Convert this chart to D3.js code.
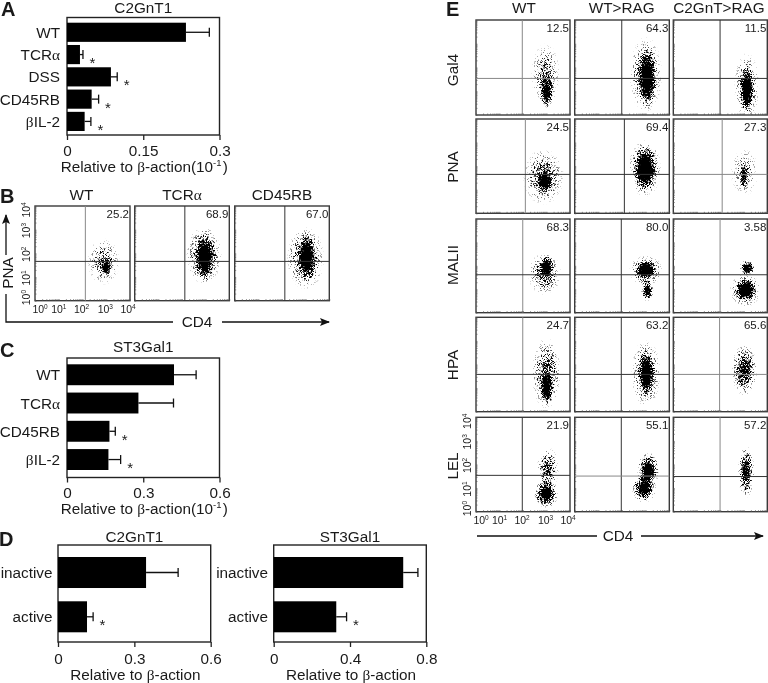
<!DOCTYPE html>
<html lang="en">
<head>
<meta charset="utf-8">
<title>Figure</title>
<script src="https://d3js.org/d3.v7.min.js"></script>
<style>
  html, body { margin: 0; padding: 0; background: #fff; }
  svg { display: block; }
  text { font-family: "Liberation Sans", Arial, sans-serif; fill: #1a1a1a; }
  .axis text { font-size: 15.3px; }
  .axis path, .axis line { stroke: #222; stroke-width: 1.3; }
</style>
</head>
<body>
<div id="viz"></div>
<script>
// bar panels: mean, top of error bar, significance star
const aCats = ["WT", "TCRα", "DSS", "CD45RB", "βIL-2"];
const aVals = [0.234, 0.0255, 0.0864, 0.0485, 0.0347];
const aErrs = [0.28, 0.0314, 0.0988, 0.0622, 0.047];
const aStar = [false, true, true, true, true];

const cCats = ["WT", "TCRα", "CD45RB", "βIL-2"];
const cVals = [0.421, 0.281, 0.167, 0.163];
const cErrs = [0.508, 0.419, 0.19, 0.211];
const cStar = [false, false, true, true];

const dCats = ["inactive", "active"];
const d1Vals = [0.346, 0.114];
const d1Errs = [0.472, 0.138];
const d2Vals = [0.679, 0.328];
const d2Errs = [0.756, 0.382];
const dStar = [false, true];

// flow plots. clouds are read off the picture, in log10 units:
// [x centre, y centre, x extent, y extent, density]
const bCols = ["WT", "TCRα", "CD45RB"];
const bPct = ["25.2", "68.9", "67.0"];
const bGateX = [2.12, 2.12, 2.12];
const bGateY = 1.66;
const bClouds = [
  [[2.89, 1.65, 0.7, 1.0, 0.42], [2.99, 1.41, 0.22, 0.38, 1]],
  [[2.93, 1.93, 0.77, 1.25, 0.6], [2.97, 1.79, 0.42, 1.05, 1]],
  [[3.0, 1.79, 0.8, 1.35, 0.6], [3.06, 1.86, 0.37, 1.05, 1]]
];

const eCols = ["WT", "WT>RAG", "C2GnT>RAG"];
const eRows = ["Gal4", "PNA", "MALII", "HPA", "LEL"];
const ePct = [
  ["12.5", "64.3", "11.5"],
  ["24.5", "69.4", "27.3"],
  ["68.3", "80.0", "3.58"],
  ["24.7", "63.2", "65.6"],
  ["21.9", "55.1", "57.2"]
];
const eGateX = [
  [1.97, 1.99, 1.99],
  [2.1, 2.1, 2.08],
  [1.99, 1.97, 1.99],
  [1.99, 1.97, 1.97],
  [1.97, 1.97, 1.99]
];
const eGateY = [
  [1.54, 1.54, 1.54],
  [1.65, 1.65, 1.65],
  [1.62, 1.62, 1.62],
  [1.58, 1.58, 1.58],
  [1.54, 1.51, 1.49]
];
// gate lines that print lighter in the picture
const eGreyX = [
  [1, 0, 0],
  [1, 0, 1],
  [1, 0, 1],
  [1, 0, 1],
  [0, 0, 1]
];
const eGreyY = [
  [1, 0, 0],
  [0, 0, 1],
  [0, 0, 0],
  [0, 0, 1],
  [0, 1, 0]
];
const eClouds = [
  [
    [[2.96, 1.69, 0.62, 1.35, 0.42], [3.01, 0.99, 0.32, 0.8, 0.85]],
    [[3.01, 1.69, 0.7, 1.65, 0.55], [3.07, 1.55, 0.4, 1.32, 1]],
    [[3.13, 1.2, 0.55, 1.45, 0.5], [3.13, 1.05, 0.3, 0.98, 1]]
  ],
  [
    [[2.87, 1.55, 0.88, 1.2, 0.5], [2.92, 1.34, 0.35, 0.47, 1]],
    [[2.97, 1.9, 0.7, 1.22, 0.7], [2.99, 1.9, 0.47, 0.98, 1]],
    [[3.03, 1.76, 0.6, 1.05, 0.3], [3.01, 1.55, 0.2, 0.58, 0.75]]
  ],
  [
    [[2.92, 1.66, 0.72, 0.92, 0.5], [3.01, 1.94, 0.32, 0.52, 1]],
    [[3.01, 1.8, 0.72, 0.66, 0.6], [3.01, 1.83, 0.42, 0.42, 1], [3.07, 0.96, 0.27, 0.48, 0.9]],
    [[3.13, 1.9, 0.36, 0.34, 0.9], [3.07, 0.96, 0.67, 0.72, 0.6], [3.07, 0.96, 0.47, 0.47, 1]]
  ],
  [
    [[2.99, 1.62, 0.63, 1.55, 0.55], [3.01, 0.99, 0.28, 0.72, 1]],
    [[3.01, 1.62, 0.63, 1.47, 0.55], [3.04, 1.62, 0.33, 0.95, 1]],
    [[3.03, 1.76, 0.55, 1.12, 0.72]]
  ],
  [
    [[3.06, 1.83, 0.48, 0.92, 0.55], [2.99, 0.77, 0.52, 0.62, 1]],
    [[3.11, 1.76, 0.48, 0.76, 1], [2.93, 0.99, 0.52, 0.62, 0.95]],
    [[3.1, 1.69, 0.36, 1.12, 0.78]]
  ]
];

const width = 768;
const height = 683;
const fontSize = 15.3;
const svg = d3.select("#viz").append("svg")
  .attr("width", width)
  .attr("height", height);

const defs = svg.append("defs");

const grad = defs.append("radialGradient").attr("id", "cloudFill");
[[0, 1], [0.3, 0.8], [0.6, 0.42], [0.85, 0.14], [1, 0]].forEach(s => {
  grad.append("stop").attr("offset", s[0]).attr("stop-color", "#000").attr("stop-opacity", s[1]);
});

// turns the soft clouds into speckle
const speckle = defs.append("filter")
  .attr("id", "speckle")
  .attr("filterUnits", "userSpaceOnUse")
  .attr("x", 0).attr("y", 0).attr("width", width).attr("height", height)
  .attr("color-interpolation-filters", "sRGB");
speckle.append("feTurbulence")
  .attr("type", "fractalNoise").attr("baseFrequency", 1.7).attr("numOctaves", 2).attr("seed", 4)
  .attr("result", "noise");
speckle.append("feColorMatrix")
  .attr("in", "noise").attr("type", "matrix")
  .attr("values", "0 0 0 0 0  0 0 0 0 0  0 0 0 0 0  0 0 0 3 -1")
  .attr("result", "grain");
speckle.append("feComposite")
  .attr("in", "SourceGraphic").attr("in2", "grain")
  .attr("operator", "arithmetic")
  .attr("k1", 0).attr("k2", 1.7).attr("k3", 1).attr("k4", -1)
  .attr("result", "dots");
speckle.append("feComponentTransfer").attr("in", "dots").attr("result", "hard")
  .append("feFuncA").attr("type", "linear").attr("slope", 2.4);
speckle.append("feGaussianBlur").attr("in", "hard").attr("stdDeviation", 0.3);

const arrow = defs.append("marker")
  .attr("id", "arrow")
  .attr("viewBox", "0 0 10 8")
  .attr("refX", 9).attr("refY", 4)
  .attr("markerUnits", "userSpaceOnUse")
  .attr("markerWidth", 13).attr("markerHeight", 8)
  .attr("orient", "auto");
arrow.append("path").attr("d", "M0,0L10,4L0,8L2,4Z").attr("fill", "#111");

// greek in a serif face, ^n as superscript
function rich(sel, str, size) {
  const parts = str.match(/[αβ]|\^-?\d+|[^αβ^]+/g);
  parts.forEach(p => {
    if (p[0] === "^") {
      sel.append("tspan").attr("font-size", size * 0.62).attr("dy", -size * 0.36).text(p.slice(1));
      sel.append("tspan").attr("font-size", size).attr("dy", size * 0.36).text("\u200a");
    } else if (p === "α" || p === "β") {
      sel.append("tspan").style("font-family", "'Liberation Serif', serif").text(p);
    } else {
      sel.append("tspan").text(p);
    }
  });
}

function label(x, y, str, size, anchor) {
  const t = svg.append("text")
    .attr("x", x).attr("y", y)
    .attr("font-size", size)
    .attr("text-anchor", anchor || "middle");
  rich(t, str, size);
  return t;
}

function panelLetter(x, y, s) {
  svg.append("text").attr("x", x).attr("y", y)
    .attr("font-size", 20).attr("font-weight", "bold").attr("fill", "#000").text(s);
}

function barPanel(o) {
  const x = d3.scaleLinear().domain([0, o.max]).range([o.left, o.right]);
  const y = d3.scaleBand().domain(o.cats).range([o.bandTop, o.bandBottom]).paddingInner(o.pad);
  const g = svg.append("g");

  g.append("rect")
    .attr("x", o.left).attr("y", o.top)
    .attr("width", o.right - o.left).attr("height", o.bottom - o.top)
    .attr("fill", "none").attr("stroke", "#222").attr("stroke-width", 1.4);

  const axis = d3.axisBottom(x).tickValues(o.ticks).tickFormat(d3.format("")).tickSize(5).tickPadding(2);
  const ag = g.append("g").attr("class", "axis").attr("transform", `translate(0,${o.bottom})`).call(axis);
  ag.select(".domain").remove();
  ag.selectAll("text").attr("dy", null).attr("y", o.tickBase - o.bottom);

  o.cats.forEach((c, i) => {
    const yc = y(c) + y.bandwidth() / 2;
    g.append("line")
      .attr("x1", x(o.vals[i])).attr("x2", x(o.errs[i]))
      .attr("y1", yc).attr("y2", yc)
      .attr("stroke", "#111").attr("stroke-width", 1.3);
    g.append("line")
      .attr("x1", x(o.errs[i])).attr("x2", x(o.errs[i]))
      .attr("y1", yc - 4.5).attr("y2", yc + 4.5)
      .attr("stroke", "#111").attr("stroke-width", 1.3);
    if (o.star[i]) {
      g.append("text")
        .attr("x", x(o.errs[i]) + 6.5).attr("y", yc + 13.5)
        .attr("font-size", 15).attr("fill", "#555").text("*");
    }
    label(o.labelX, yc + 5.5, c, fontSize, "end");
  });

  g.selectAll(".bar")
    .data(o.cats)
    .enter()
    .append("rect")
    .attr("class", "bar")
    .attr("x", o.left)
    .attr("y", d => y(d))
    .attr("width", (d, i) => x(o.vals[i]) - o.left)
    .attr("height", y.bandwidth())
    .attr("fill", "#000");

  label((o.left + o.right) / 2, o.titleBase, o.title, fontSize);
  label((o.left + o.right) / 2 + 1, o.labelBase, o.xLabel, fontSize);
}

const cloudLayer = svg.append("g").attr("filter", "url(#speckle)");
const frameLayer = svg.append("g");
let clipId = 0;

function flowPanel(o) {
  const x = d3.scaleLog().domain([1, 1e4]).range([o.x0, o.x1]);
  const y = d3.scaleLog().domain([1, 1e4]).range([o.y1, o.y0]);
  const dec = v => 23.6 * v; // a decade is the same size in all panels

  const id = "clip" + clipId++;
  defs.append("clipPath").attr("id", id).append("rect")
    .attr("x", o.x0).attr("y", o.y0).attr("width", o.x1 - o.x0).attr("height", o.y1 - o.y0);

  cloudLayer.append("g").attr("clip-path", `url(#${id})`)
    .selectAll("ellipse")
    .data(o.clouds)
    .enter()
    .append("ellipse")
    .attr("cx", d => x(Math.pow(10, d[0])))
    .attr("cy", d => y(Math.pow(10, d[1])))
    .attr("rx", d => dec(d[2]))
    .attr("ry", d => dec(d[3]))
    .attr("fill", "url(#cloudFill)")
    .attr("fill-opacity", d => d[4]);

  const g = frameLayer.append("g");
  g.append("rect")
    .attr("x", o.x0).attr("y", o.y0)
    .attr("width", o.x1 - o.x0).attr("height", o.y1 - o.y0)
    .attr("fill", "none").attr("stroke", "#3a3a3a").attr("stroke-width", 1.4);

  g.append("line")
    .attr("x1", x(Math.pow(10, o.gateX))).attr("x2", x(Math.pow(10, o.gateX)))
    .attr("y1", o.y0).attr("y2", o.y1)
    .attr("stroke", o.greyX ? "#888" : "#333").attr("stroke-width", 1);
  g.append("line")
    .attr("x1", o.x0).attr("x2", o.x1)
    .attr("y1", y(Math.pow(10, o.gateY))).attr("y2", y(Math.pow(10, o.gateY)))
    .attr("stroke", o.greyY ? "#888" : "#333").attr("stroke-width", 1);

  // minor ticks sit just inside the frame
  const minorX = d3.axisBottom(x).tickValues(x.ticks()).tickFormat("").tickSizeOuter(0).tickSizeInner(-1.5);
  const minorY = d3.axisLeft(y).tickValues(y.ticks()).tickFormat("").tickSizeOuter(0).tickSizeInner(-1.5);
  const ax = g.append("g").attr("transform", `translate(0,${o.y1})`).call(minorX);
  const ay = g.append("g").attr("transform", `translate(${o.x0},0)`).call(minorY);
  [ax, ay].forEach(a => {
    a.select(".domain").remove();
    a.selectAll("line").attr("stroke", "#555").attr("stroke-width", 0.7);
  });

  g.append("text")
    .attr("x", o.x1 - 1).attr("y", o.y0 + 12)
    .attr("text-anchor", "end").attr("font-size", 11.5).text(o.pct);

  const decades = [1, 10, 100, 1000, 10000];
  if (o.xTicks) {
    const xa = g.append("g").attr("transform", `translate(0,${o.y1})`)
      .call(d3.axisBottom(x).tickValues(decades).tickFormat("").tickSize(0));
    xa.select(".domain").remove();
    xa.selectAll(".tick").select("text").remove();
    xa.selectAll(".tick").append("text")
      .attr("x", (d, i) => [5, 0, -1, -1, -2][i])
      .attr("y", 12)
      .attr("text-anchor", "middle")
      .attr("font-size", 10.5)
      .each(function(d) { rich(d3.select(this), "10^" + Math.log10(d), 10.5); });
  }
  if (o.yTicks) {
    const ya = g.append("g").attr("transform", `translate(${o.x0},0)`)
      .call(d3.axisLeft(y).tickValues(decades).tickFormat("").tickSize(0));
    ya.select(".domain").remove();
    ya.selectAll(".tick").select("text").remove();
    ya.selectAll(".tick").append("text")
      .attr("transform", (d, i) => `translate(-5,${[-4, 0, 0, 0, 3][i]}) rotate(-90)`)
      .attr("text-anchor", "middle")
      .attr("font-size", 10.5)
      .each(function(d) { rich(d3.select(this), "10^" + Math.log10(d), 10.5); });
  }
}

function arrowLine(points, end) {
  svg.append("path")
    .attr("d", d3.line()(points))
    .attr("fill", "none").attr("stroke", "#111").attr("stroke-width", 1.3)
    .attr("marker-end", end ? "url(#arrow)" : null);
}

// A
panelLetter(1, 16, "A");
barPanel({
  title: "C2GnT1", xLabel: "Relative to β-action(10^-1)", cats: aCats, vals: aVals, errs: aErrs, star: aStar,
  max: 0.3, ticks: [0, 0.15, 0.3],
  left: 67, right: 219.5, top: 17.5, bottom: 135,
  bandTop: 22.7, bandBottom: 131, pad: 0.14,
  labelX: 60, tickBase: 156, labelBase: 172, titleBase: 12.5
});

// B
panelLetter(0, 203, "B");
const bX = [[35, 130], [134.7, 229.3], [234.7, 329.3]];
bCols.forEach((c, i) => {
  label((bX[i][0] + bX[i][1]) / 2 + (i === 0 ? -1 : 0), 200, c, fontSize);
  flowPanel({
    x0: bX[i][0], x1: bX[i][1], y0: 206, y1: 300.7,
    clouds: bClouds[i], pct: bPct[i], gateX: bGateX[i], gateY: bGateY,
    xTicks: i === 0, yTicks: i === 0, greyX: i === 0
  });
});
svg.append("text").attr("transform", "translate(12.5,273) rotate(-90)")
  .attr("text-anchor", "middle").attr("font-size", fontSize).text("PNA");
arrowLine([[6, 255], [6, 215]], true);
arrowLine([[6, 294], [6, 322], [173, 322]], false);
label(197, 327, "CD4", fontSize);
arrowLine([[222, 322], [329, 322]], true);

// C
panelLetter(0, 357, "C");
barPanel({
  title: "ST3Gal1", xLabel: "Relative to β-action(10^-1)", cats: cCats, vals: cVals, errs: cErrs, star: cStar,
  max: 0.6, ticks: [0, 0.3, 0.6],
  left: 67, right: 219.5, top: 358, bottom: 477.5,
  bandTop: 364.3, bandBottom: 470, pad: 0.26,
  labelX: 60, tickBase: 497.5, labelBase: 514, titleBase: 352
});

// D
panelLetter(-1, 546, "D");
barPanel({
  title: "C2GnT1", xLabel: "Relative to β-action", cats: dCats, vals: d1Vals, errs: d1Errs, star: dStar,
  max: 0.6, ticks: [0, 0.3, 0.6],
  left: 58, right: 210.7, top: 545, bottom: 642,
  bandTop: 557, bandBottom: 632.3, pad: 0.3,
  labelX: 52.5, tickBase: 664, labelBase: 680, titleBase: 542
});
barPanel({
  title: "ST3Gal1", xLabel: "Relative to β-action", cats: dCats, vals: d2Vals, errs: d2Errs, star: dStar,
  max: 0.8, ticks: [0, 0.4, 0.8],
  left: 273.7, right: 426.3, top: 545, bottom: 642,
  bandTop: 557, bandBottom: 632.3, pad: 0.3,
  labelX: 268, tickBase: 664, labelBase: 680, titleBase: 542
});

// E
panelLetter(446, 16, "E");
const eX = [[476, 570], [574.7, 669.3], [673.3, 767.3]];
const eY = [[20, 115], [119, 213.3], [219, 312.7], [317.3, 411.7], [417.3, 511.7]];
eCols.forEach((c, i) => label([524, 621.7, 719][i], 12.5, c, fontSize));
eRows.forEach((r, j) => {
  svg.append("text")
    .attr("transform", `translate(458,${[70, 167, 265, 365, 466][j]}) rotate(-90)`)
    .attr("text-anchor", "middle").attr("font-size", fontSize).text(r);
  eCols.forEach((c, i) => {
    flowPanel({
      x0: eX[i][0], x1: eX[i][1], y0: eY[j][0], y1: eY[j][1],
      clouds: eClouds[j][i], pct: ePct[j][i], gateX: eGateX[j][i], gateY: eGateY[j][i],
      greyX: eGreyX[j][i], greyY: eGreyY[j][i],
      xTicks: j === 4 && i === 0, yTicks: j === 4 && i === 0
    });
  });
});
arrowLine([[477, 536], [597, 536]], false);
label(618, 541, "CD4", fontSize);
arrowLine([[641, 536], [763, 536]], true);
</script>
</body>
</html>
